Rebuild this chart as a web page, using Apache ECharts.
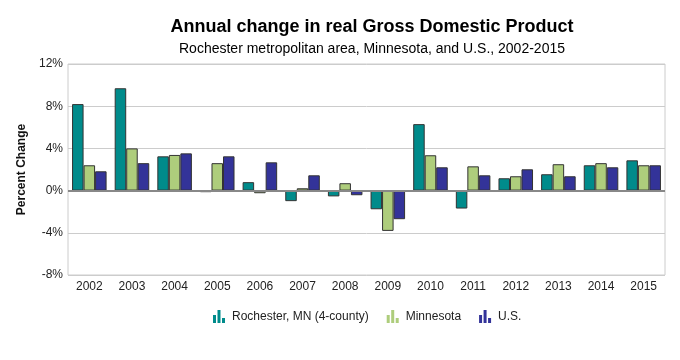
<!DOCTYPE html>
<html><head><meta charset="utf-8">
<script src="https://cdn.jsdelivr.net/npm/echarts@6/dist/echarts.min.js"></script>
<style>html,body{margin:0;padding:0;background:#fff}#c{width:680px;height:360px}</style>
</head><body><div id="c"></div>
<script>
const years = ['2002','2003','2004','2005','2006','2007','2008','2009','2010','2011','2012','2013','2014','2015'];
const rochester = [8.2, 9.7, 3.25, -0.15, 0.8, -1.0, -0.55, -1.77, 6.3, -1.7, 1.17, 1.55, 2.4, 2.87];
const minnesota = [2.4, 4.0, 3.38, 2.6, -0.25, 0.22, 0.7, -3.82, 3.35, 2.3, 1.36, 2.5, 2.6, 2.4];
const us = [1.83, 2.6, 3.53, 3.25, 2.68, 1.45, -0.44, -2.71, 2.21, 1.45, 2.02, 1.36, 2.21, 2.4];
const yTicks = [-8, -4, 0, 4, 8, 12];

const icon = 'path://M0,5H3V13H0Z M4.5,0H7.5V13H4.5Z M9,8H12V13H9Z';
const font = 'Liberation Sans, Arial, sans-serif';
const chart = echarts.init(document.getElementById('c'));
function s(name, data, color, extra){
  return Object.assign({name, type:'bar', data, barGap:'0%', barCategoryGap:'19%',
    itemStyle:{color, borderColor:'#333', borderWidth:1}}, extra||{});
}
chart.setOption({
  animation:false,
  textStyle:{fontFamily:font},
  title:[
    {text:'Annual change in real Gross Domestic Product', left:367, top:13, textAlign:'center',
     textStyle:{fontSize:18, fontWeight:'bold', color:'#000', fontFamily:font}},
    {text:'Rochester metropolitan area, Minnesota, and U.S., 2002-2015', left:367, top:37, textAlign:'center',
     textStyle:{fontSize:14, fontWeight:'normal', color:'#000', fontFamily:font}}
  ],
  legend:{bottom:32, left:208, itemWidth:12, itemHeight:13, itemGap:18, icon:icon,
    itemStyle:{borderWidth:0},
    textStyle:{fontSize:12, color:'#222', fontFamily:font, padding:[0,0,0,2]}},
  grid:{left:68, right:15, top:64, bottom:85, show:true, borderColor:'#ccc', borderWidth:1,
    outerBoundsMode:'none', containLabel:false},
  xAxis:{type:'category', data:years,
    axisLine:{onZero:false, show:false},
    axisTick:{show:false},
    axisLabel:{fontSize:12, color:'#222', margin:6, fontFamily:font}},
  yAxis:{type:'value', min:yTicks[0], max:yTicks[yTicks.length-1], interval:4,
    name:'Percent Change', nameLocation:'middle', nameGap:29, nameRotate:90,
    nameTextStyle:{fontSize:12, fontWeight:'bold', color:'#111', fontFamily:font},
    axisLine:{show:false}, axisTick:{show:false},
    splitLine:{lineStyle:{color:'#ccc'}},
    axisLabel:{fontSize:12, color:'#222', formatter:'{value}%', margin:5, fontFamily:font}},
  series:[s('Rochester, MN (4-county)', rochester, '#008b8b'),
          s('Minnesota', minnesota, '#aecd7c'),
          s('U.S.', us, '#333399', {markLine:{silent:true, symbol:['none','none'], label:{show:false},
             lineStyle:{color:'#888', width:2, type:'solid'}, data:[{yAxis:0}]}})]
});
</script></body></html>
